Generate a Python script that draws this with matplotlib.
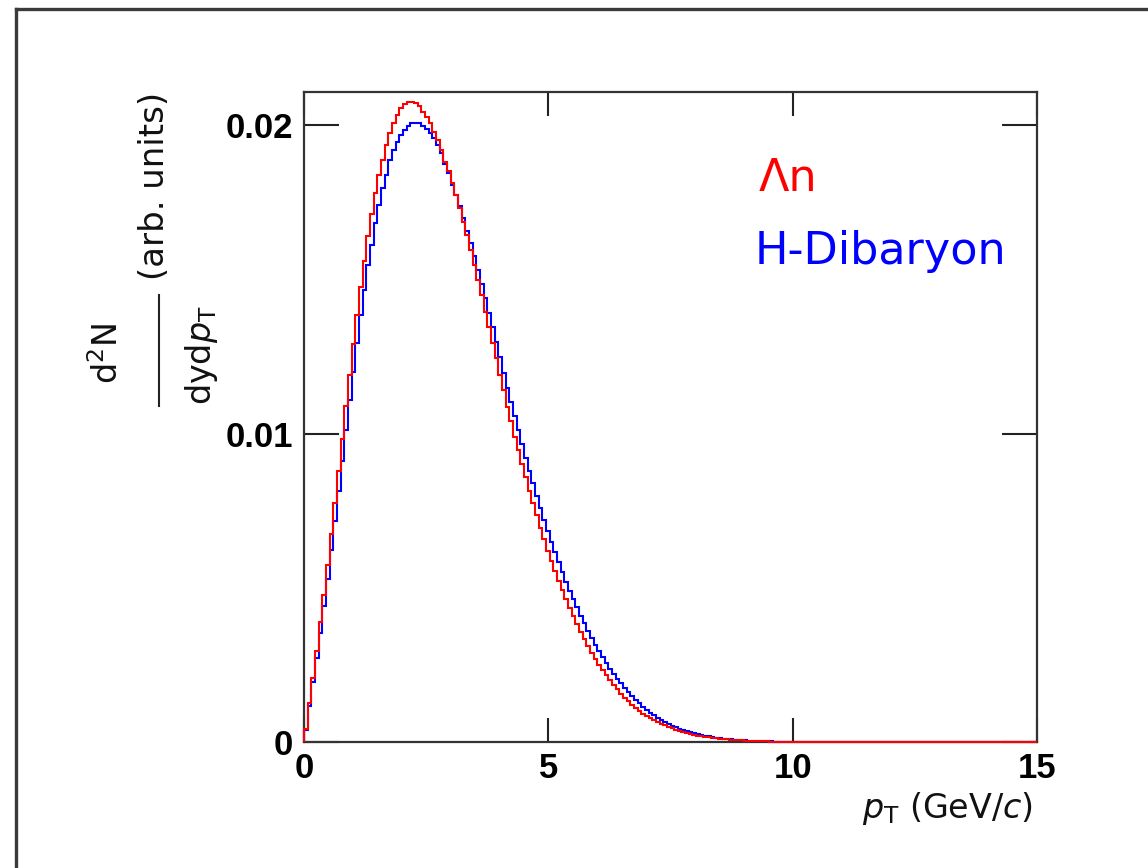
import numpy as np
import matplotlib
matplotlib.use("Agg")
import matplotlib.pyplot as plt
from matplotlib.lines import Line2D

# ---------------- data (bin contents in units of 1e-4) ----------------
pt_min, pt_max, n_bins = 0.0, 15.0, 200
unit = 1e-4

lambda_n_counts = [
    4.1, 12.5, 20.8, 29.6, 38.8, 47.6, 57.4, 67.4, 77.4, 87.8,
    98.2, 108.9, 118.9, 129.0, 138.4, 147.6, 156.0, 164.1, 171.3, 177.8,
    183.8, 188.6, 193.5, 197.5, 200.7, 203.2, 205.4, 206.7, 207.3, 207.5,
    207.0, 206.0, 204.3, 202.7, 200.5, 197.6, 195.1, 191.9, 188.1, 185.1,
    181.1, 177.3, 173.0, 168.6, 164.3, 159.5, 154.6, 149.7, 144.9, 139.5,
    134.6, 129.4, 124.4, 118.9, 114.1, 108.7, 104.0, 99.0, 94.5, 90.0,
    86.0, 81.5, 77.5, 73.5, 69.5, 65.8, 62.0, 58.8, 55.5, 52.3,
    49.2, 46.3, 43.5, 40.8, 38.2, 35.8, 33.4, 31.1, 29.0, 27.0,
    25.1, 23.3, 21.6, 20.0, 18.5, 17.1, 15.7, 14.4, 13.2, 12.1,
    11.0, 10.0, 9.1, 8.4, 7.7, 7.1, 6.5, 5.9, 5.4, 4.9,
    4.4, 4.0, 3.6, 3.2, 2.9, 2.6, 2.35, 2.1, 1.9, 1.7,
    1.5, 1.35, 1.2, 1.05, 0.95, 0.85, 0.75, 0.65, 0.58, 0.5,
    0.44, 0.38, 0.33, 0.28, 0.24, 0.2, 0.17, 0.14, 0.12, 0.1,
    0.08, 0.06, 0.05, 0.04, 0.03, 0.02, 0.015, 0.01,
] + [0.0] * 62

h_dibaryon_counts = [
    3.9, 11.7, 19.5, 27.1, 35.4, 44.1, 52.8, 62.2, 71.6, 81.3,
    91.1, 101.1, 110.8, 120.0, 129.2, 138.4, 146.5, 154.6, 161.1, 168.1,
    174.0, 179.5, 183.8, 188.6, 191.9, 194.6, 196.7, 198.3, 199.7, 200.5,
    200.8, 200.5, 199.7, 198.6, 197.3, 195.7, 193.5, 190.8, 187.3, 184.3,
    180.5, 177.3, 173.7, 169.7, 165.7, 161.6, 157.5, 153.0, 148.4, 143.8,
    139.1, 134.4, 129.7, 124.9, 119.7, 114.8, 110.3, 105.6, 101.0, 96.6,
    92.2, 88.0, 83.8, 79.8, 75.9, 72.1, 68.4, 64.9, 61.5, 58.2,
    55.0, 52.0, 49.1, 46.3, 43.6, 41.0, 38.5, 36.1, 33.8, 31.6,
    29.5, 27.5, 25.6, 23.8, 22.1, 20.5, 19.0, 17.5, 16.1, 14.8,
    13.6, 12.5, 11.4, 10.4, 9.5, 8.7, 7.9, 7.2, 6.5, 5.9,
    5.3, 4.8, 4.3, 3.9, 3.5, 3.1, 2.8, 2.5, 2.2, 2.0,
    1.8, 1.6, 1.4, 1.25, 1.1, 1.0, 0.88, 0.78, 0.68, 0.6,
    0.52, 0.45, 0.4, 0.35, 0.3, 0.26, 0.22, 0.19, 0.16, 0.14,
    0.12, 0.1, 0.08, 0.07, 0.06, 0.05, 0.04,
] + [0.0] * 63

x_ticks = [0, 5, 10, 15]
x_tick_labels = ["0", "5", "10", "15"]
y_ticks = [0, 0.01, 0.02]
y_tick_labels = ["0", "0.01", "0.02"]
series_labels = ["Λn", "H-Dibaryon"]

# ---------------- figure ----------------
W, H = 1148, 868
fig = plt.figure(figsize=(W / 100, H / 100), dpi=100)
fig.patch.set_facecolor("white")

def fx(px):
    return px / W

def fy(py):
    return 1 - py / H

ax = fig.add_axes([fx(304), fy(742), (1037 - 304) / W, (742 - 92) / H])

edges = np.linspace(pt_min, pt_max, n_bins + 1)
red_vals = np.array(lambda_n_counts) * unit
blue_vals = np.array(h_dibaryon_counts) * unit

ax.stairs(blue_vals, edges, baseline=0, color="#0000ff", lw=1.5, zorder=3, clip_on=False)
ax.stairs(red_vals, edges, baseline=0, color="#ff0000", lw=1.5, zorder=4, clip_on=False)

ax.set_xlim(0, 15)
ax.set_ylim(0, 0.02107)

for s in ax.spines.values():
    s.set_color("#333333")
    s.set_linewidth(1.6)

ax.set_xticks(x_ticks)
ax.set_xticklabels(x_tick_labels)
ax.set_yticks(y_ticks)
ax.set_yticklabels(y_tick_labels)
ax.tick_params(axis="x", direction="in", length=17, width=1.5, color="#222222",
               top=True, bottom=True, pad=7)
ax.tick_params(axis="y", direction="in", length=25, width=1.5, color="#222222",
               left=True, right=True, pad=8)
for lab in ax.get_xticklabels() + ax.get_yticklabels():
    lab.set_fontfamily("Liberation Sans")
    lab.set_fontweight("bold")
    lab.set_fontsize(25)

# legend-like labels
fig.text(fx(759), fy(191), series_labels[0], color="#ff0000", fontsize=32,
         family="DejaVu Sans", ha="left", va="baseline")
fig.text(fx(755), fy(264), series_labels[1], color="#0000ff", fontsize=32,
         family="DejaVu Sans", ha="left", va="baseline")

# x axis title
fig.text(fx(1033), fy(818), r"$p_{\mathrm{T}}$ (GeV/$c$)", fontsize=24,
         family="DejaVu Sans", ha="right", va="baseline", color="#111111")

# y axis title (fraction)
fig.text(fx(108), fy(354), r"d$^{2}$N", rotation=90, fontsize=24,
         family="DejaVu Sans", ha="center", va="center", color="#111111")
fig.text(fx(201), fy(355), r"dyd$p_{\mathrm{T}}$", rotation=90, fontsize=24,
         family="DejaVu Sans", ha="center", va="center", color="#111111")
fig.add_artist(Line2D([fx(159), fx(159)], [fy(295), fy(406)], color="#222222", lw=1.5))
fig.text(fx(154), fy(186), "(arb. units)", rotation=90, fontsize=24.5,
         family="DejaVu Sans", ha="center", va="center", color="#111111")

# outer canvas frame (top and left edges)
fig.add_artist(Line2D([fx(16), fx(W + 5)], [fy(9), fy(9)], color="#3a3a3a", lw=2.4))
fig.add_artist(Line2D([fx(16), fx(16)], [fy(9), fy(H + 5)], color="#3a3a3a", lw=2.4))

fig.savefig("out.png", dpi=100)
